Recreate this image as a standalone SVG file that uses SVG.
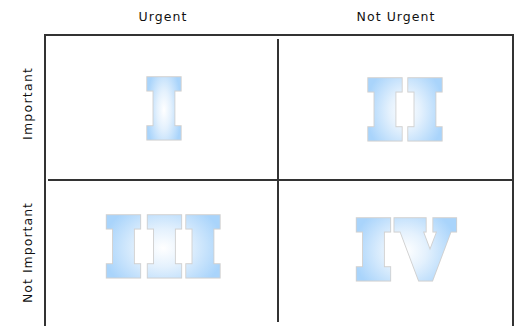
<svg xmlns="http://www.w3.org/2000/svg" width="523" height="326" viewBox="0 0 523 326">
<defs>
<radialGradient id="g" cx="0.5" cy="0.5" r="0.55">
<stop offset="0" stop-color="#ffffff"/>
<stop offset="0.4" stop-color="#e4f1fd"/>
<stop offset="1" stop-color="#a9d4fb"/>
</radialGradient>
<style>
.lbl{font-family:"DejaVu Sans",sans-serif;font-size:12.5px;fill:#111;}
.num{font-family:"DejaVu Serif",serif;font-weight:bold;font-size:73px;stroke-linejoin:miter;stroke-miterlimit:10;text-anchor:middle;}
.o{fill:#d0d0d0;stroke:#d0d0d0;stroke-width:11;}
.f{fill:url(#g);stroke:url(#g);stroke-width:9;}
.ln{stroke:#333;stroke-width:2;fill:none;}
</style>
</defs>
<rect width="523" height="326" fill="#ffffff"/>
<g id="connectors">
<path class="ln" d="M45,326 V35 H513 V326"/>
<path class="ln" d="M278,39 V322"/>
<path class="ln" d="M48,180 H512"/>
</g>
<g id="label-urgent"><text class="lbl" x="162.5" y="21" text-anchor="middle" textLength="48">Urgent</text></g>
<g id="label-not-urgent"><text class="lbl" x="395.5" y="21" text-anchor="middle" textLength="78">Not Urgent</text></g>
<g id="label-important"><text class="lbl" transform="translate(32,104) rotate(-90)" text-anchor="middle" textLength="72">Important</text></g>
<g id="label-not-important"><text class="lbl" transform="translate(32,253) rotate(-90)" text-anchor="middle" textLength="100">Not Important</text></g>
<g id="q1" transform="scale(0.92,1)"><text class="num o" x="178.26" y="135.5">I</text><text class="num f" x="178.26" y="135.5">I</text></g>
<g id="q2" transform="scale(0.92,1)"><text class="num o" x="418.48 461.96" y="136.5">II</text><text class="num f" x="418.48 461.96" y="136.5">II</text></g>
<g id="q3" transform="scale(0.92,1)"><text class="num o" x="134.24 178.8 220.65" y="273.5">III</text><text class="num f" x="134.24 178.8 220.65" y="273.5">III</text></g>
<g id="q4" transform="scale(0.92,1)"><text class="num o" x="405.98 461.96" y="276.5">IV</text><text class="num f" x="405.98 461.96" y="276.5">IV</text></g>
</svg>
